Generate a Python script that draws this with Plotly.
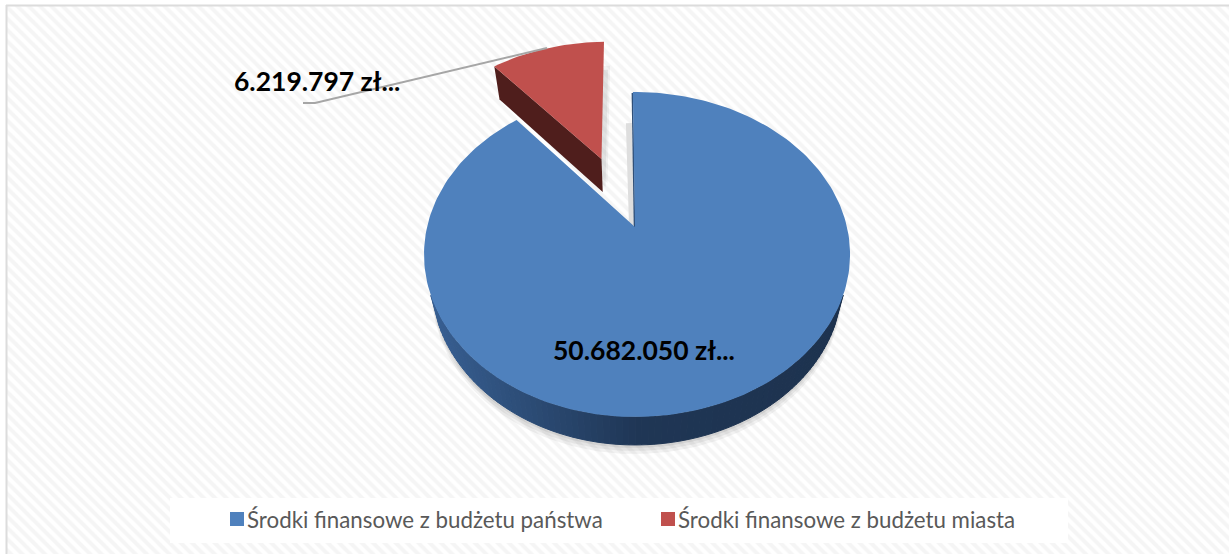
import math
import plotly.graph_objects as go

# Data
categories = ["Środki finansowe z budżetu państwa", "Środki finansowe z budżetu miasta"]
values = [50682050, 6219797]
value_labels = ["50.682.050 zł...", "6.219.797 zł..."]

# Styles
W, H = 1229, 554
top_colors = ["#4f81bd", "#c0504d"]
CX, CY = 635.0, 227.0          # pie apex on screen
RX, RY, K = 210.9, 157.8, 0.1692   # perspective projection of the disc
LEFT_SCALE, RIGHT_SCALE = 0.986, 1.005
START = -0.012
EXPLODE = [0.0, 0.495]
RED_NUDGE = -0.3
DEPTH = [28.0, 33.0]
DEPTH_XSCALE = 0.963


def project(u, v):
    w = 1 + K * v
    sx = LEFT_SCALE if u < 0 else RIGHT_SCALE
    return CX + RX * sx * u / w, CY - RY * v / w


def wedge(a0, a1, explode, nudge=0.0):
    mid = (a0 + a1) / 2
    ou, ov = explode * math.sin(mid), explode * math.cos(mid)
    n = max(2, int((a1 - a0) / math.radians(1.5)))
    arc = []
    for i in range(n + 1):
        a = a0 + (a1 - a0) * i / n
        x, y = project(ou + math.sin(a), ov + math.cos(a))
        arc.append((x + nudge, y))
    ax, ay = project(ou, ov)
    return (ax + nudge, ay), arc


def lower(p, depth):
    return CX + (p[0] - CX) * DEPTH_XSCALE, p[1] + depth


def mix(c0, c1, t):
    return "rgb(%d,%d,%d)" % tuple(round(a + (b - a) * t) for a, b in zip(c0, c1))


fig = go.Figure()


def poly(points, color, opacity=1.0, seam=False):
    fig.add_trace(go.Scatter(
        x=[p[0] for p in points] + [points[0][0]],
        y=[p[1] for p in points] + [points[0][1]],
        mode="lines", fill="toself", fillcolor=color,
        line=dict(width=1 if seam else 0, color=color),
        opacity=opacity, showlegend=False, hoverinfo="skip"))


# Hatched background
fig.add_trace(go.Scatter(
    x=[7, W, W, 7, 7], y=[6, 6, H, H, 6], mode="lines", fill="toself",
    line=dict(width=0), fillcolor="white",
    fillpattern=dict(shape="\\", size=8, solidity=0.5, fgcolor="#ececec", bgcolor="#ffffff"),
    showlegend=False, hoverinfo="skip"))
# Legend band
poly([(170, 498), (1068, 498), (1068, 543), (170, 543)], "#ffffff")

total = sum(values)
angle_blue = START + 2 * math.pi * values[0] / total
apex_b, arc_b = wedge(START, angle_blue, EXPLODE[0])
apex_r, arc_r = wedge(angle_blue, START + 2 * math.pi, EXPLODE[1], RED_NUDGE)

# Soft shadows under the pie
for grow, op in [(9, 0.10), (6, 0.12), (3, 0.16)]:
    pts = [(p[0], p[1] + DEPTH[0] + grow) for p in (lower(q, 0) for q in arc_b)]
    poly(pts + [apex_b], "#808080", op)
# Shadow cast by the red wedge
shadow_r = [apex_r] + arc_r
for dx, dy, op in [(6, 24, 0.10), (4, 28, 0.14)]:
    poly([(p[0] + dx, p[1] + dy) for p in shadow_r], "#808080", op)

# Blue side wall
c_left, c_mid, c_right = (56, 96, 148), (31, 54, 85), (29, 50, 78)
for i in range(len(arc_b) - 1):
    p0, p1 = arc_b[i], arc_b[i + 1]
    if p0[1] < CY + 70 and p1[1] < CY + 70:
        continue
    xm = (p0[0] + p1[0]) / 2
    if xm < CX:
        color = mix(c_left, c_mid, min(1, (xm - 423) / 215))
    else:
        color = mix(c_mid, c_right, (xm - CX) / 215)
    poly([p0, p1, lower(p1, DEPTH[0]), lower(p0, DEPTH[0])], color, seam=True)

# Shadow along the cut of the blue slice
top_b = arc_b[0]
fig.add_trace(go.Scatter(
    x=[top_b[0] - 4, apex_b[0] - 3], y=[top_b[1] + 31, CY - 2], mode="lines",
    line=dict(color="#dedede", width=6), showlegend=False, hoverinfo="skip"))
fig.add_trace(go.Scatter(
    x=[top_b[0] - 0.5, apex_b[0] - 0.5], y=[top_b[1] + 1, CY], mode="lines",
    line=dict(color="#2f4f78", width=1.5), showlegend=False, hoverinfo="skip"))

# Blue face
poly([apex_b] + arc_b, top_colors[0])

# Red side wall (the cut edge) and face
poly([apex_r, arc_r[0], lower(arc_r[0], DEPTH[1]), lower(apex_r, DEPTH[1])], "#4f1e1c")
poly([apex_r] + arc_r, top_colors[1])

# Leader line for the small slice
fig.add_trace(go.Scatter(
    x=[303, 315, 547], y=[103, 103, 48], mode="lines",
    line=dict(color="#a6a6a6", width=2), showlegend=False, hoverinfo="skip"))

# Legend entries
for name, col in zip(categories, top_colors):
    fig.add_trace(go.Scatter(
        x=[None], y=[None], mode="markers", name=name,
        marker=dict(symbol="square", size=14, color=col)))

# Value labels
label_pos = [(644, 350), (317, 81)]
annotations = [dict(x=x, y=y, xref="x", yref="y", text=f"<b>{t}</b>", showarrow=False,
                    font=dict(family="Lato", size=26.5, color="#000000"))
               for t, (x, y) in zip(value_labels, label_pos)]

fig.update_layout(
    width=W, height=H, autosize=False,
    margin=dict(l=0, r=0, t=0, b=0),
    paper_bgcolor="#ffffff", plot_bgcolor="rgba(0,0,0,0)",
    xaxis=dict(range=[0, W], visible=False, fixedrange=True),
    yaxis=dict(range=[H, 0], visible=False, fixedrange=True),
    annotations=annotations,
    legend=dict(orientation="h", x=207 / W, y=1 - 498 / H, yanchor="top", xanchor="left",
                bgcolor="rgba(0,0,0,0)", entrywidth=386, entrywidthmode="pixels",
                font=dict(family="Lato", size=22.3, color="#595959"),
                traceorder="normal"),
    shapes=[dict(type="line", x0=6, y0=5.5, x1=W, y1=5.5, xref="x", yref="y",
                 line=dict(color="#dcdcdc", width=2), layer="above"),
            dict(type="line", x0=6.5, y0=5, x1=6.5, y1=H, xref="x", yref="y",
                 line=dict(color="#dcdcdc", width=2), layer="above")],
)

post = """
document.body.style.margin='0';
document.documentElement.style.overflow='hidden';
var gd=document.getElementById('{plot_id}');
function nudgeKeys(){
  gd.querySelectorAll('.legendsymbols').forEach(function(g){g.setAttribute('transform','translate(10,0)');});
}
nudgeKeys();
gd.on('plotly_afterplot',nudgeKeys);
"""
fig.write_html("out.html", config={"displayModeBar": False}, post_script=post)
